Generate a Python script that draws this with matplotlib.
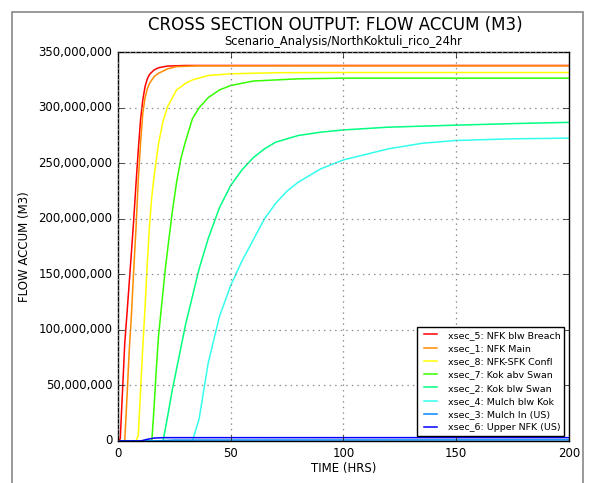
import matplotlib
matplotlib.use('Agg')
import matplotlib.pyplot as plt
import matplotlib.ticker as mticker
from matplotlib.patches import Rectangle
import numpy as np

plt.style.use('classic')
plt.rcParams['font.family'] = 'DejaVu Sans'

# flow accumulation, millions of m3
labels = [
    "xsec_5: NFK blw Breach",
    "xsec_1: NFK Main",
    "xsec_8: NFK-SFK Confl",
    "xsec_7: Kok abv Swan",
    "xsec_2: Kok blw Swan",
    "xsec_4: Mulch blw Kok",
    "xsec_3: Mulch In (US)",
    "xsec_6: Upper NFK (US)",
]
colors = ['#ff0000', '#ff8c00', '#ffff00', '#33ff00',
          '#00ff80', '#33ffee', '#0088ff', '#0000ff']

t_xsec5 = [0, 1, 2, 3, 4, 5, 6, 7, 8, 9, 10, 11, 12, 13, 14, 16, 18, 22, 30, 200]
v_xsec5 = [0, 2, 45, 88, 115, 143, 171, 200, 232, 262, 289, 307, 319, 326, 330, 334, 336, 337.5, 338, 338]

t_xsec1 = [0, 3, 4, 5, 6, 7, 8, 9, 10, 11, 12, 13, 14, 16, 18, 22, 26, 35, 200]
v_xsec1 = [0, 0, 40, 82, 115, 155, 192, 235, 268, 295, 309, 317, 322, 328, 331, 335, 337, 337.7, 337.7]

t_xsec8 = [0, 8, 9, 10, 11, 12, 13, 14, 15, 16, 18, 20, 22, 26, 30, 33, 40, 50, 70, 100, 200]
v_xsec8 = [0, 0, 5, 45, 85, 120, 160, 195, 220, 238, 268, 288, 301, 316, 322, 325, 329, 330.5, 331.5, 331.7, 331.7]

t_xsec7 = [0, 15, 16, 17, 18, 19, 20, 21, 22, 24, 26, 28, 30, 33, 36, 40, 45, 50, 60, 80, 100, 200]
v_xsec7 = [0, 0, 30, 65, 95, 115, 135, 155, 172, 205, 233, 255, 270, 290, 300, 309, 316, 320, 324, 326, 326.6, 326.6]

t_xsec2 = [0, 20, 22, 24, 26, 28, 30, 33, 36, 40, 45, 50, 55, 60, 65, 70, 80, 90, 100, 120, 150, 175, 200]
v_xsec2 = [0, 0, 22, 45, 65, 85, 105, 130, 155, 182, 210, 230, 244, 255, 263, 269, 275, 278, 280, 282.5, 284.3, 285.7, 286.8]

t_xsec4 = [0, 33, 36, 40, 45, 50, 55, 60, 65, 70, 75, 80, 90, 100, 110, 120, 135, 150, 175, 200]
v_xsec4 = [0, 0, 20, 70, 112, 140, 162, 181, 200, 214, 225, 233, 245, 253, 258, 263, 268, 270.5, 272, 272.6]

t_xsec3 = [0, 15, 25, 200]
v_xsec3 = [0, 0, 0.8, 1.0]

t_xsec6 = [0, 10, 13, 16, 20, 200]
v_xsec6 = [0, 0, 1.5, 2.6, 3.0, 3.0]

series = [
    (t_xsec5, v_xsec5), (t_xsec1, v_xsec1), (t_xsec8, v_xsec8), (t_xsec7, v_xsec7),
    (t_xsec2, v_xsec2), (t_xsec4, v_xsec4), (t_xsec3, v_xsec3), (t_xsec6, v_xsec6),
]

fig = plt.figure(figsize=(5.9, 4.83), dpi=100, facecolor='white')
ax = fig.add_axes([0.2, 0.087, 0.764, 0.805])

for (t, v), lab, c in zip(series, labels, colors):
    ax.plot(t, np.array(v) * 1e6, color=c, lw=1.1, label=lab)

ax.set_xlim(0, 200)
ax.set_ylim(0, 350e6)
ax.set_xticks([0, 50, 100, 150, 200])
ax.set_yticks(np.arange(0, 350e6 + 1, 50e6))
ax.yaxis.set_major_formatter(mticker.FuncFormatter(lambda y, p: f"{int(y):,}"))
ax.tick_params(labelsize=8.5)
ax.grid(True, color='#888888', linestyle=':', linewidth=0.9)

ax.set_xlabel("TIME (HRS)", fontsize=8.5, labelpad=2)
ax.set_ylabel("FLOW ACCUM (M3)", fontsize=8.5)
ax.set_title("Scenario_Analysis/NorthKoktuli_rico_24hr", fontsize=8.3)
fig.text(0.569, 0.948, "CROSS SECTION OUTPUT: FLOW ACCUM (M3)",
         ha='center', va='center', fontsize=12)

leg = ax.legend(loc='lower right', fontsize=6.8, frameon=True, fancybox=False,
                borderaxespad=0.5, handlelength=2.0, labelspacing=0.45)
leg.get_frame().set_edgecolor('black')

# grey frame around the figure
fig.patches.append(Rectangle((12 / 590, -0.01), 571 / 590, 1 - 12 / 483 + 0.01,
                             transform=fig.transFigure, fill=False,
                             edgecolor='#888888', lw=1.2))

plt.savefig('out.png', dpi=100, facecolor='white')
